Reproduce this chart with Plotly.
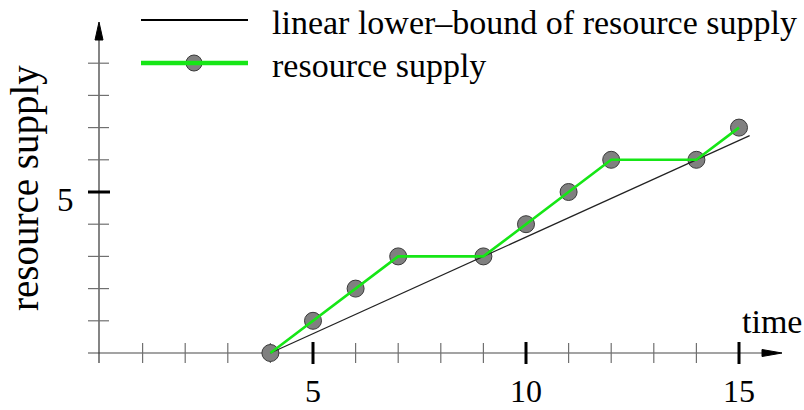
import plotly.graph_objects as go

# ---------------- data ----------------
time = [4, 5, 6, 7, 9, 10, 11, 12, 14, 15]
supply = [0, 1, 2, 3, 3, 4, 5, 6, 6, 7]
bound_time = [4, 15.25]
bound_supply = [0, 6.75]

x_minor_ticks = [1, 2, 3, 4, 6, 7, 8, 9, 11, 12, 13, 14]
x_major_ticks = [5, 10, 15]
x_tick_labels = ["5", "10", "15"]
y_minor_ticks = [1, 2, 3, 4, 6, 7, 8, 9]
y_major_ticks = [5]
y_tick_labels = ["5"]

legend_labels = ["linear lower\u2013bound of resource supply", "resource supply"]
x_title = "time"
y_title = "resource supply"

# ---------------- geometry (pixels) ----------------
W, H = 804, 410
X0_PX, Y0_PX = 100, 353          # pixel of data origin
SX, SY = 42.6, 32.2              # pixels per unit

def dx(px):
    return (px - X0_PX) / SX

def dy(py):
    return (Y0_PX - py) / SY

FONT = "Liberation Serif"
GREEN = "#16e616"

fig = go.Figure()

# markers below lines
fig.add_trace(go.Scatter(
    x=time, y=supply, mode="markers",
    marker=dict(size=17, color="#808080", line=dict(color="#3a3a3a", width=1)),
    showlegend=False, hoverinfo="skip"))
fig.add_trace(go.Scatter(
    x=bound_time, y=bound_supply, mode="lines",
    line=dict(color="#222222", width=1.2),
    showlegend=False, name=legend_labels[0]))
fig.add_trace(go.Scatter(
    x=time, y=supply, mode="lines",
    line=dict(color=GREEN, width=2.6),
    showlegend=False, name=legend_labels[1]))

shapes = []
# x axis line + arrow
shapes.append(dict(type="line", xref="x", yref="y", x0=dx(88), x1=dx(766), y0=0, y1=0,
                   line=dict(color="#858585", width=1.6), layer="below"))
shapes.append(dict(type="path", xref="x", yref="y",
                   path=f"M {dx(762)},{dy(349.5)} L {dx(782)},{dy(353)} L {dx(762)},{dy(356.5)} Z",
                   fillcolor="black", line=dict(color="black", width=1)))
# y axis line + arrow
shapes.append(dict(type="line", xref="x", yref="y", x0=dx(99), x1=dx(99), y0=dy(363), y1=dy(38),
                   line=dict(color="#333333", width=1.2), layer="below"))
shapes.append(dict(type="path", xref="x", yref="y",
                   path=f"M {dx(95)},{dy(40)} L {dx(99)},{dy(22)} L {dx(103)},{dy(40)} Z",
                   fillcolor="black", line=dict(color="black", width=1)))
# x ticks
for t in x_minor_ticks:
    shapes.append(dict(type="line", xref="x", yref="y", x0=t, x1=t, y0=dy(343), y1=dy(363),
                       line=dict(color="#707070", width=1.2), layer="below"))
for t in x_major_ticks:
    shapes.append(dict(type="line", xref="x", yref="y", x0=t, x1=t, y0=dy(342), y1=dy(364),
                       line=dict(color="black", width=3), layer="below"))
# y ticks
for t in y_minor_ticks:
    shapes.append(dict(type="line", xref="x", yref="y", x0=dx(88), x1=dx(109), y0=t, y1=t,
                       line=dict(color="#707070", width=1.2), layer="below"))
for t in y_major_ticks:
    shapes.append(dict(type="line", xref="x", yref="y", x0=dx(88), x1=dx(110), y0=t, y1=t,
                       line=dict(color="black", width=3), layer="below"))

# legend samples (pixel positions -> data coords)
shapes.append(dict(type="line", xref="x", yref="y", x0=dx(141), x1=dx(248), y0=dy(20), y1=dy(20),
                   line=dict(color="black", width=1.8)))
shapes.append(dict(type="circle", xref="x", yref="y", x0=dx(186), x1=dx(202), y0=dy(55), y1=dy(71),
                   fillcolor="#808080", line=dict(color="#3a3a3a", width=1)))
shapes.append(dict(type="line", xref="x", yref="y", x0=dx(141), x1=dx(248), y0=dy(63), y1=dy(63),
                   line=dict(color=GREEN, width=4.5)))

annotations = []
for t, lab in zip(x_major_ticks, x_tick_labels):
    annotations.append(dict(x=t, y=dy(391), text=lab, showarrow=False, xanchor="center",
                            yanchor="middle", font=dict(family=FONT, size=32, color="black")))
for t, lab in zip(y_major_ticks, y_tick_labels):
    annotations.append(dict(x=dx(65), y=t - (8 / SY), text=lab, showarrow=False, xanchor="center",
                            yanchor="middle", font=dict(family=FONT, size=33, color="black")))
annotations.append(dict(x=dx(740), y=dy(321), text=x_title, showarrow=False, xanchor="left",
                        yanchor="middle", font=dict(family=FONT, size=34, color="black")))
annotations.append(dict(x=dx(25), y=dy(188), text=y_title, showarrow=False, textangle=-90,
                        xanchor="center", yanchor="middle",
                        font=dict(family=FONT, size=39, color="black")))
annotations.append(dict(x=dx(270), y=dy(22), text=legend_labels[0], showarrow=False, xanchor="left",
                        yanchor="middle", font=dict(family=FONT, size=34, color="black")))
annotations.append(dict(x=dx(270), y=dy(65), text=legend_labels[1], showarrow=False, xanchor="left",
                        yanchor="middle", font=dict(family=FONT, size=34, color="black")))

fig.update_layout(
    width=W, height=H,
    margin=dict(l=0, r=0, t=0, b=0),
    paper_bgcolor="white", plot_bgcolor="white",
    xaxis=dict(range=[dx(0), dx(W)], visible=False, fixedrange=True),
    yaxis=dict(range=[dy(H), dy(0)], visible=False, fixedrange=True),
    shapes=shapes, annotations=annotations, showlegend=False,
)

fig.write_html("out.html", config={"displayModeBar": False},
               post_script="document.body.style.margin='0';document.body.style.padding='0';document.body.style.overflow='hidden';")
